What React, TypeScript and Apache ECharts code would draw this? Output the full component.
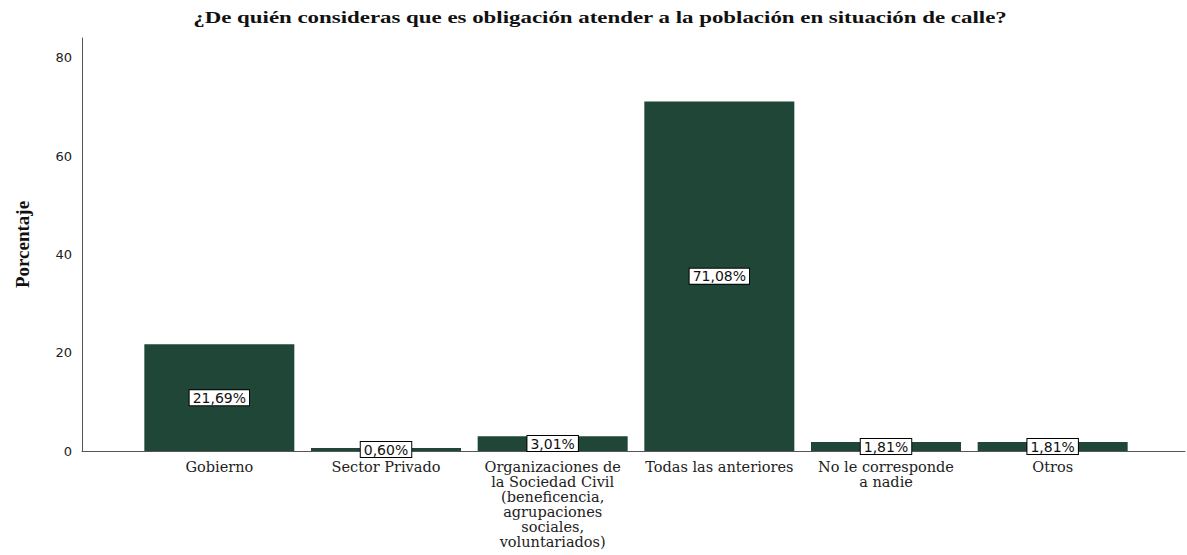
import React, { useEffect, useRef } from "react";
import * as echarts from "echarts";

const titleText = "¿De quién consideras que es obligación atender a la población en situación de calle?";
const yAxisTitle = "Porcentaje";
const categories = [
  "Gobierno",
  "Sector Privado",
  "Organizaciones de\nla Sociedad Civil\n(beneficencia,\nagrupaciones\nsociales,\nvoluntariados)",
  "Todas las anteriores",
  "No le corresponde\na nadie",
  "Otros",
];
const percentages = [21.69, 0.6, 3.01, 71.08, 1.81, 1.81];
const yMin = 0;
const yMax = 84;
const yInterval = 20;

const BAR_COLOR = "#1f4636";
const AXIS_COLOR = "#555555";
const SERIF = "'Liberation Serif', 'Times New Roman', serif";
const WIDE_SERIF = "'DejaVu Serif', serif";
const SANS = "'DejaVu Sans', sans-serif";

const fmt = (v: number) => v.toFixed(2).replace(".", ",") + "%";

export default function App() {
  const ref = useRef<HTMLDivElement>(null);
  useEffect(() => {
    document.body.style.margin = "0";
    if (!ref.current) return;
    const chart = echarts.init(ref.current, undefined, { renderer: "svg" });
    chart.setOption({
      animation: false,
      backgroundColor: "#ffffff",
      graphic: [
        {
          type: "text",
          x: 600,
          y: 17,
          scaleX: 1.43,
          style: {
            text: titleText,
            font: `bold 16px ${SERIF}`,
            fill: "#111",
            align: "center",
            verticalAlign: "middle",
          },
        },
      ],
      grid: [
        { left: 82, right: 2, top: 38, bottom: 104 },
        { left: 136, right: 51, top: 38, bottom: 104 },
      ],
      xAxis: [
        {
          gridIndex: 0,
          type: "value",
          min: 0,
          max: 1,
          axisLine: { show: true, lineStyle: { color: AXIS_COLOR, width: 1 } },
          axisTick: { show: false },
          axisLabel: { show: false },
          splitLine: { show: false },
        },
        {
          gridIndex: 1,
          type: "category",
          data: categories,
          axisLine: { show: false },
          axisTick: { show: false },
          axisLabel: {
            interval: 0,
            margin: 8,
            fontFamily: WIDE_SERIF,
            fontSize: 14.5,
            lineHeight: 15,
            color: "#222",
          },
        },
      ],
      yAxis: [
        {
          gridIndex: 0,
          type: "value",
          min: yMin,
          max: yMax,
          interval: yInterval,
          name: yAxisTitle,
          nameLocation: "middle",
          nameGap: 50,
          nameTextStyle: { fontFamily: SERIF, fontWeight: "bold", fontSize: 19, color: "#111" },
          axisLine: { show: true, lineStyle: { color: AXIS_COLOR, width: 1 } },
          axisTick: { show: false },
          axisLabel: { showMaxLabel: false, fontFamily: SANS, fontSize: 13, color: "#222", margin: 10 },
          splitLine: { show: false },
        },
        {
          gridIndex: 1,
          type: "value",
          min: yMin,
          max: yMax,
          show: false,
          splitLine: { show: false },
        },
      ],
      series: [
        {
          type: "bar",
          xAxisIndex: 1,
          yAxisIndex: 1,
          data: percentages,
          barCategoryGap: "10%",
          itemStyle: { color: BAR_COLOR },
          label: {
            show: true,
            position: "inside",
            formatter: (p: any) => fmt(p.value),
            fontFamily: SANS,
            fontSize: 14,
            color: "#111",
            backgroundColor: "#ffffff",
            borderColor: "#000000",
            borderWidth: 1,
            padding: [1, 3, 0, 3],
          },
        },
      ],
    });
    return () => chart.dispose();
  }, []);
  return <div ref={ref} style={{ width: 1187, height: 555 }} />;
}
